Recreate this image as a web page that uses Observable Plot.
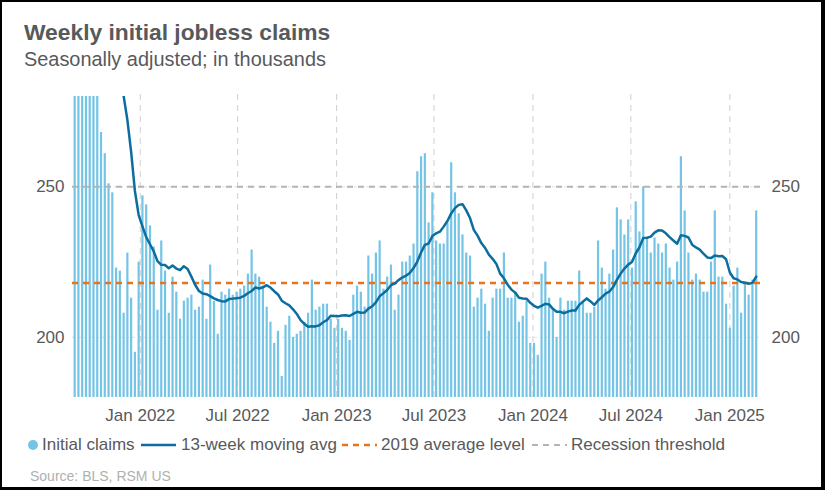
<!DOCTYPE html>
<html>
<head>
<meta charset="utf-8">
<script src="https://cdn.jsdelivr.net/npm/d3@7"></script>
<script src="https://cdn.jsdelivr.net/npm/@observablehq/plot@0.6"></script>
<style>
  html, body { margin: 0; padding: 0; background: #000; }
  #frame { position: relative; width: 825px; height: 490px; background: #000; overflow: hidden; }
  #card { position: absolute; left: 2px; top: 2px; width: 819px; height: 485px; background: #fff; }
  .abs { position: absolute; white-space: nowrap; font-family: "Liberation Sans", Arial, sans-serif; }
  #title { left: 24px; top: 19px; font-size: 22.8px; line-height: 26px; font-weight: bold; color: #58595b; }
  #subtitle { left: 24px; top: 47px; font-size: 19.9px; line-height: 24px; color: #58595b; }
  #chart { position: absolute; left: 0; top: 0; }
  .leg { top: 435px; font-size: 17px; line-height: 20px; color: #58595b; }
  #source { left: 30px; top: 468px; font-size: 14px; line-height: 16px; color: #b0b0b0; }
</style>
</head>
<body>
<div id="frame">
  <div id="card"></div>
  <div id="chart"></div>
  <div id="title" class="abs">Weekly initial jobless claims</div>
  <div id="subtitle" class="abs">Seasonally adjusted; in thousands</div>
  <svg class="abs" style="left:27px;top:438px" width="14" height="14"><circle cx="6" cy="7" r="5" fill="#74c4e6"/></svg>
  <div class="abs leg" style="left:42px">Initial claims</div>
  <svg class="abs" style="left:140px;top:440px" width="38" height="10"><line x1="1" x2="36" y1="5" y2="5" stroke="#0b6e9f" stroke-width="2.5"/></svg>
  <div class="abs leg" style="left:181px">13-week moving avg</div>
  <svg class="abs" style="left:341px;top:440px" width="38" height="10"><line x1="1" x2="36" y1="5" y2="5" stroke="#e8731a" stroke-width="2.5" stroke-dasharray="6,5"/></svg>
  <div class="abs leg" style="left:381px">2019 average level</div>
  <svg class="abs" style="left:531px;top:440px" width="38" height="10"><line x1="1" x2="36" y1="5" y2="5" stroke="#b4b4b4" stroke-width="2" stroke-dasharray="6,5"/></svg>
  <div class="abs leg" style="left:571px">Recession threshold</div>
  <div id="source" class="abs">Source: BLS, RSM US</div>
</div>
<script>
// Weekly initial claims (thousands, seasonally adjusted), week ending Sep 4, 2021 ... Feb 22, 2025
const firstWeekEnding = "2021-09-04";
const claims = [
  340, 332, 351, 364, 329, 296, 290, 268, 261, 251,
  248, 223, 222, 208, 228, 213, 195, 225, 247, 244,
  237, 230, 209, 232, 222, 208, 220, 215, 206, 212,
  213, 214, 209, 210, 219, 206, 224, 212, 201, 215,
  214, 216, 214, 215, 216, 217, 221, 229, 221, 220,
  217, 210, 205, 198, 202, 187, 204, 207, 200, 201,
  202, 205, 208, 219, 209, 210, 211, 211, 206, 203,
  206, 203, 202, 199, 214, 217, 215, 210, 227, 221,
  228, 232, 216, 220, 224, 209, 214, 225, 225, 227,
  231, 255, 260, 261, 238, 248, 232, 231, 231, 238,
  258, 248, 241, 234, 228, 227, 210, 213, 216, 211,
  202, 213, 216, 216, 228, 213, 213, 215, 205, 207,
  212, 198, 198, 194, 221, 225, 213, 209, 200, 213,
  209, 212, 212, 212, 222, 212, 208, 208, 210, 232,
  223, 216, 221, 229, 243, 239, 234, 239, 223, 245,
  235, 250, 233, 228, 233, 231, 228, 231, 223, 219,
  225, 260, 242, 228, 219, 221, 219, 215, 215, 225,
  242, 220, 220, 211, 203, 217, 223, 208, 218, 214,
  219, 242
];
const avg2019 = [218];
const recessionThreshold = [250];
const yTicks = [200, 250];
const xTickDates = ["2022-01-01", "2022-07-01", "2023-01-01", "2023-07-01", "2024-01-01", "2024-07-01", "2025-01-01"];
const xTickLabels = ["Jan 2022", "Jul 2022", "Jan 2023", "Jul 2023", "Jan 2024", "Jul 2024", "Jan 2025"];

const start = new Date(firstWeekEnding);
const data = claims.map((v, i) => {
  const weekEnd = d3.utcDay.offset(start, 7 * i);
  return {weekEnd, pos: d3.utcDay.offset(weekEnd, -3), value: v};
});
const ticks = xTickDates.map(s => new Date(s));
const labelOf = d => xTickLabels[ticks.findIndex(t => +t === +d)];

const chart = Plot.plot({
  width: 825,
  height: 430,
  marginLeft: 72,
  marginRight: 65,
  marginTop: 96,
  marginBottom: 33,
  x: {type: "utc", domain: [new Date("2021-08-28"), new Date("2025-02-27")], label: null},
  y: {domain: [180, 280], label: null},
  style: {fontFamily: "Liberation Sans, Arial, sans-serif", fontSize: "17px", color: "#58595b", background: "transparent", overflow: "visible"},
  marks: [
    Plot.ruleY(yTicks, {stroke: "#e2e2e2", strokeDasharray: "3,3", strokeWidth: 1}),
    Plot.ruleX(ticks, {y1: 180, y2: 282, stroke: "#cfcfcf", strokeDasharray: "6,5", strokeWidth: 1}),
    Plot.ruleX(data, {x: "pos", y1: 180, y2: "value", stroke: "#74c4e6", strokeWidth: 2.2, clip: true}),
    Plot.ruleY(avg2019, {stroke: "#e8731a", strokeWidth: 2.5, strokeDasharray: "6,5"}),
    Plot.ruleY(recessionThreshold, {stroke: "#b4b4b4", strokeWidth: 2, strokeDasharray: "6,5"}),
    Plot.lineY(data, Plot.windowY({k: 13, anchor: "end", strict: true}, {x: "pos", y: "value", stroke: "#0b6e9f", strokeWidth: 2.5, clip: true})),
    Plot.axisX({ticks, tickFormat: labelOf, tickSize: 0, tickPadding: 11, fontSize: 17, label: null}),
    Plot.axisY({anchor: "left", ticks: yTicks, tickSize: 0, tickPadding: 8, fontSize: 17, label: null}),
    Plot.axisY({anchor: "right", ticks: yTicks, tickSize: 0, tickPadding: 11, fontSize: 17, label: null})
  ]
});
document.getElementById("chart").appendChild(chart);
</script>
</body>
</html>
